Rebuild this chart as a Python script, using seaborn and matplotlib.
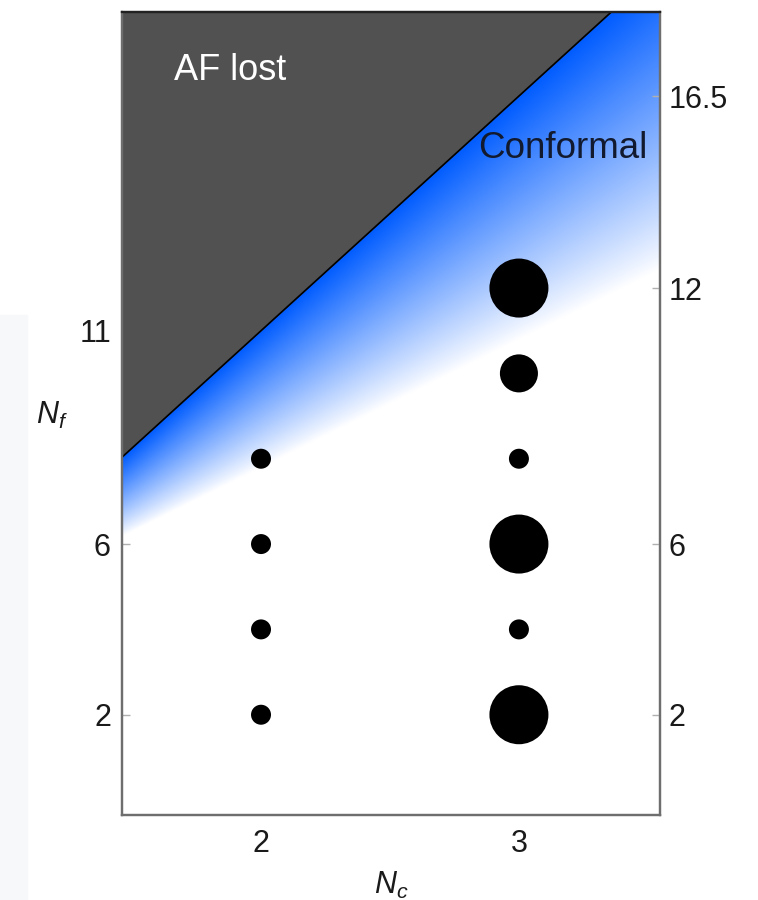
import numpy as np
import pandas as pd
import matplotlib
matplotlib.use("Agg")
import matplotlib.pyplot as plt
from matplotlib.patches import Rectangle
import seaborn as sns

# Lattice simulation points: number of colours, number of flavours, marker class
n_colors = [2, 2, 2, 2, 3, 3, 3, 3, 3, 3]
n_flavors = [2, 4, 6, 8, 2, 4, 6, 8, 10, 12]
weight = ["small", "small", "small", "small",
          "large", "small", "large", "small", "medium", "large"]

# Phase boundaries: asymptotic freedom lost at Nf = 11/2 Nc,
# conformal window fading out along Nf = 3 Nc + 1.8
af_slope = 5.5
window_slope = 3.0
window_offset = 1.8

left_ticks = [2, 6, 11]
right_ticks = [2, 6, 12, 16.5]
right_labels = ["2", "6", "12", "16.5"]
x_ticks = [2, 3]

sns.set_theme(style="white")
plt.rcParams["font.family"] = ["Liberation Sans", "DejaVu Sans"]
plt.rcParams["mathtext.fontset"] = "custom"
plt.rcParams["mathtext.it"] = "Liberation Sans:italic"
plt.rcParams["mathtext.rm"] = "Liberation Sans"

df = pd.DataFrame({"Nc": n_colors, "Nf": n_flavors, "weight": weight})

fig = plt.figure(figsize=(7.58, 9.0), dpi=100)
fig.patches.append(Rectangle((0, 0), 27 / 758, 585 / 900, transform=fig.transFigure,
                             color="#f7f8fa", zorder=-10))
ax = fig.add_axes([122 / 758, 85 / 900, 538 / 758, 803 / 900])

xlim = (1.461, 3.547)
ylim = (-0.35, 18.47)

# Blue gradient of the conformal window
gx = np.linspace(*xlim, 600)
gy = np.linspace(*ylim, 900)
GX, GY = np.meshgrid(gx, gy)
upper = af_slope * GX
lower = window_slope * GX + window_offset
t = np.clip((GY - lower) / (upper - lower), 0, 1) ** 0.9
blue = np.array([0.0, 0.36, 1.0])
img = np.ones(GX.shape + (3,)) * (1 - t[..., None]) + blue * t[..., None]
ax.imshow(img, origin="lower", extent=(*xlim, *ylim), aspect="auto",
          interpolation="bilinear", zorder=0)

# Region where asymptotic freedom is lost
bx = np.array(xlim)
ax.fill_between(bx, af_slope * bx, ylim[1] + 1, color="#515151", zorder=1,
                linewidth=0)
ax.plot(bx, af_slope * bx, color="black", lw=1.2, zorder=2)

sns.scatterplot(data=df, x="Nc", y="Nf", size="weight",
                sizes={"small": 207, "medium": 750, "large": 1805},
                color="black", edgecolor="none", legend=False, ax=ax, zorder=3)

ax.set_xlim(xlim)
ax.set_ylim(ylim)
ax.set_xticks(x_ticks)
ax.set_xticklabels([str(v) for v in x_ticks])
ax.set_yticks(left_ticks)
ax.set_yticklabels([str(v) for v in left_ticks])
ax.tick_params(direction="in", length=6, width=1, color="#b0b0b0",
               labelsize=22, labelcolor="#1a1a1a")
ax.tick_params(axis="x", pad=10)
ax.tick_params(axis="y", pad=8)

ax.set_xlabel("$N_c$", fontsize=22, color="#1a1a1a", labelpad=8)
ax.set_ylabel("$N_f$", fontsize=22, color="#1a1a1a", rotation=0, labelpad=0)
ax.yaxis.set_label_coords(-0.13, 0.478)

ax2 = ax.twinx()
ax2.set_ylim(ylim)
ax2.set_yticks(right_ticks)
ax2.set_yticklabels(right_labels)
ax2.tick_params(direction="in", length=6, width=1, color="#b0b0b0",
                labelsize=22, labelcolor="#1a1a1a", pad=6)
ax2.grid(False)

for a in (ax, ax2):
    for name, sp in a.spines.items():
        sp.set_visible(True)
        sp.set_linewidth(1.6)
        sp.set_color("#222222" if name == "top" else "#6e6e6e")
        sp.set_zorder(5)

fig.text(230 / 758, 1 - 70 / 900, "AF lost", color="white", fontsize=26,
         ha="center", va="center")
fig.text(563 / 758, 1 - 148 / 900, "Conformal", color="#121a30", fontsize=26.5,
         ha="center", va="center")

fig.savefig("out.png", dpi=100)
